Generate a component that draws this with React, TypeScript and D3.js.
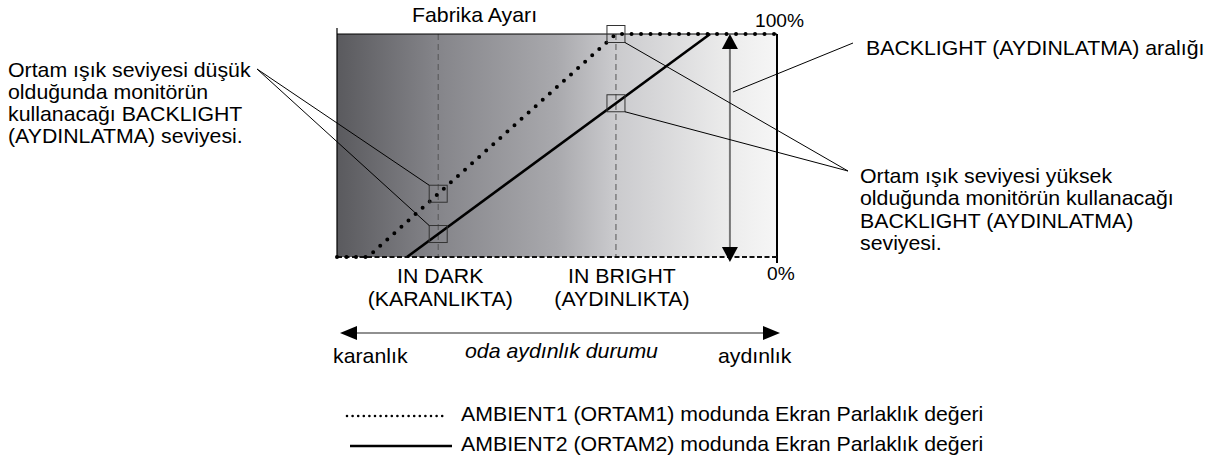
import { useMemo } from "react";
import * as d3 from "d3";

// ambient light level (0 = dark, 100 = bright) vs. backlight level (%)
const ambient1Levels = [0, 7, 63.4, 100];
const ambient1Backlight = [0, 0, 100, 100];
const ambient2Levels = [15.9, 84.8];
const ambient2Backlight = [0, 100];

const darkLevel = 23;
const brightLevel = 63.4;
const rangeLevel = 89.3;

const tickLabels = ["100%", "0%"];
const darkLabel = ["IN DARK", "(KARANLIKTA)"];
const brightLabel = ["IN BRIGHT", "(AYDINLIKTA)"];
const lowNote = ["Ortam ışık seviyesi düşük", "olduğunda monitörün", "kullanacağı BACKLIGHT", "(AYDINLATMA) seviyesi."];
const highNote = ["Ortam ışık seviyesi yüksek", "olduğunda monitörün kullanacağı", "BACKLIGHT (AYDINLATMA)", "seviyesi."];
const rangeNote = "BACKLIGHT (AYDINLATMA) aralığı";
const legendLabels = [
  "AMBIENT1 (ORTAM1) modunda Ekran Parlaklık değeri",
  "AMBIENT2 (ORTAM2) modunda Ekran Parlaklık değeri",
];

const FONT = "'Liberation Sans', Arial, Helvetica, sans-serif";
const SX = 1.065;

function Txt({ x, y, children, anchor = "start", italic = false, size = 20 }: any) {
  return (
    <text
      transform={`translate(${x},${y}) scale(${SX},1)`}
      textAnchor={anchor}
      fontFamily={FONT}
      fontSize={size}
      fontStyle={italic ? "italic" : "normal"}
      fill="#000"
    >
      {children}
    </text>
  );
}

export default function App() {
  const width = 1216;
  const height = 460;
  const left = 337, right = 777, top = 34, bottom = 257;

  const x = d3.scaleLinear([0, 100], [left, right]);
  const y = d3.scaleLinear([0, 100], [bottom, top]);

  const curve1 = useMemo(() => d3.scaleLinear(ambient1Levels, ambient1Backlight).clamp(true), []);
  const curve2 = useMemo(() => d3.scaleLinear(ambient2Levels, ambient2Backlight).clamp(true), []);

  const line = d3.line<[number, number]>((d) => x(d[0]), (d) => y(d[1]));
  const path1 = line(ambient1Levels.map((l, i) => [l, ambient1Backlight[i]]));
  const path2 = line(ambient2Levels.map((l, i) => [l, ambient2Backlight[i]]));

  const boxes = [
    { cx: x(darkLevel), cy: y(curve1(darkLevel)) },
    { cx: x(darkLevel), cy: y(curve2(darkLevel)) },
    { cx: x(brightLevel), cy: y(curve1(brightLevel)) },
    { cx: x(brightLevel), cy: y(curve2(brightLevel)) },
  ];
  const bw = 18, bh = 17;
  const rx = x(rangeLevel);

  return (
    <svg width={width} height={height} style={{ position: "absolute", left: 0, top: 0, background: "#fff" }}>
      <defs>
        <linearGradient id="ambientGrad" x1="0" x2="1" y1="0" y2="0">
          <stop offset="0" stopColor="#5a5a5e" />
          <stop offset="0.23" stopColor="#85858a" />
          <stop offset="0.5" stopColor="#a9a9ad" />
          <stop offset="0.63" stopColor="#cacacd" />
          <stop offset="0.89" stopColor="#ececec" />
          <stop offset="1" stopColor="#f6f6f6" />
        </linearGradient>
      </defs>

      {/* plot background */}
      <rect x={left} y={top} width={right - left} height={bottom - top} fill="url(#ambientGrad)" />

      {/* dark / bright guides */}
      {[darkLevel, brightLevel].map((l) => (
        <line key={l} x1={x(l)} x2={x(l)} y1={top} y2={bottom} stroke="#555" strokeWidth={1} strokeDasharray="6 4" />
      ))}

      {/* frame */}
      <line x1={left} x2={right} y1={top} y2={top} stroke="#000" strokeWidth={1} />
      <line x1={left} x2={left} y1={top - 6} y2={bottom} stroke="#000" strokeWidth={1.2} />
      <line x1={right} x2={right} y1={top} y2={bottom + 6} stroke="#000" strokeWidth={2} />
      <line x1={left} x2={right} y1={bottom} y2={bottom} stroke="#111" strokeWidth={2} strokeDasharray="5 2.5" />

      {/* backlight range arrow */}
      <line x1={rx} x2={rx} y1={top + 12} y2={bottom - 8} stroke="#777" strokeWidth={2} />
      <path d={`M${rx},${top}L${rx - 8},${top + 15}L${rx + 8},${top + 15}Z`} fill="#000" />
      <path d={`M${rx},${bottom + 5}L${rx - 8},${bottom - 10}L${rx + 8},${bottom - 10}Z`} fill="#000" />

      {/* series */}
      <path d={path2 ?? ""} fill="none" stroke="#000" strokeWidth={2.6} />
      <path d={path1 ?? ""} fill="none" stroke="#000" strokeWidth={4} strokeLinecap="round" strokeDasharray="0 9.5" />

      {/* boxes */}
      {boxes.map((b, i) => (
        <rect key={i} x={b.cx - bw / 2} y={b.cy - bh / 2} width={bw} height={bh} fill="none" stroke="#333" strokeWidth={1} />
      ))}

      {/* pointer lines */}
      <g stroke="#000" strokeWidth={1}>
        <line x1={257} y1={69} x2={boxes[0].cx - bw / 2} y2={boxes[0].cy - bh / 2} />
        <line x1={257} y1={69} x2={boxes[1].cx - bw / 2} y2={boxes[1].cy - bh / 2} />
        <line x1={848} y1={171} x2={boxes[2].cx + bw / 2} y2={boxes[2].cy + bh / 2} />
        <line x1={848} y1={171} x2={boxes[3].cx + bw / 2} y2={boxes[3].cy + bh / 2} />
        <line x1={853} y1={43} x2={rx + 3} y2={92} />
      </g>

      {/* axis-like labels */}
      <Txt x={412} y={22}>Fabrika Ayarı</Txt>
      <Txt x={755} y={27} size={18}>{tickLabels[0]}</Txt>
      <Txt x={767} y={280} size={18}>{tickLabels[1]}</Txt>
      {darkLabel.map((t, i) => (
        <Txt key={t} x={x(darkLevel) + 2} y={283 + i * 23} anchor="middle">{t}</Txt>
      ))}
      {brightLabel.map((t, i) => (
        <Txt key={t} x={x(brightLevel) + 6} y={283 + i * 23} anchor="middle">{t}</Txt>
      ))}

      {/* annotations */}
      {lowNote.map((t, i) => (
        <Txt key={t} x={8} y={77 + i * 22}>{t}</Txt>
      ))}
      {highNote.map((t, i) => (
        <Txt key={t} x={860} y={183 + i * 22.3}>{t}</Txt>
      ))}
      <Txt x={866} y={55}>{rangeNote}</Txt>

      {/* room brightness axis */}
      <line x1={355} x2={764} y1={333} y2={333} stroke="#222" strokeWidth={1.2} />
      <path d="M340,333L357,326L357,340Z" fill="#000" />
      <path d="M780,333L763,326L763,340Z" fill="#000" />
      <Txt x={333} y={363}>karanlık</Txt>
      <Txt x={465} y={358} italic>oda aydınlık durumu</Txt>
      <Txt x={718} y={363}>aydınlık</Txt>

      {/* legend */}
      <line x1={347} x2={444} y1={416} y2={416} stroke="#000" strokeWidth={2.6} strokeLinecap="round" strokeDasharray="0 5.6" />
      <line x1={350} x2={452} y1={446} y2={446} stroke="#000" strokeWidth={2.6} />
      {legendLabels.map((t, i) => (
        <Txt key={t} x={461} y={421 + i * 30}>{t}</Txt>
      ))}
    </svg>
  );
}
